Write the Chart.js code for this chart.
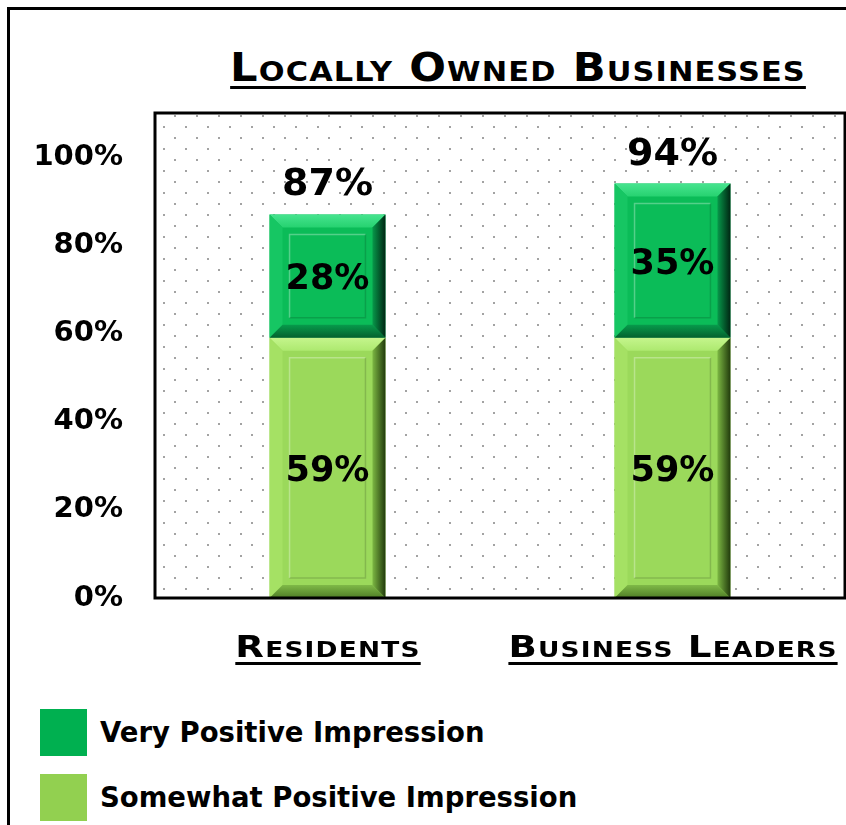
<!DOCTYPE html>
<html lang="en">
  <head>
    <meta charset="UTF-8" />
    <meta name="viewport" content="width=device-width, initial-scale=1.0" />
    <title>Locally Owned Businesses</title>
    <script src="https://cdn.jsdelivr.net/npm/chart.js"></script>
    <style>
      body {
        margin: 0;
        width: 846px;
        height: 825px;
        overflow: hidden;
        position: relative;
        background-color: #ffffff;
        color: #000000;
        font-family: 'DejaVu Sans', sans-serif;
        font-weight: bold;
      }

      .frame {
        position: absolute;
        left: 7px;
        top: 7px;
        width: 1000px;
        height: 1000px;
        border-left: 3px solid #000;
        border-top: 3px solid #000;
      }

      #title {
        position: absolute;
        left: 0;
        top: 49px;
        width: 1036px;
        text-align: center;
        font-size: 38.4px;
        line-height: 38.4px;
        font-variant: small-caps;
        letter-spacing: 1px;
        text-decoration: underline;
        text-decoration-thickness: 3px;
        text-underline-offset: 5px;
        white-space: nowrap;
        transform: scaleX(1.125);
      }

      #chart-box {
        position: absolute;
        left: 0;
        top: 0;
        width: 846px;
        height: 690px;
      }

      .cat-label {
        position: absolute;
        font-size: 31px;
        line-height: 31px;
        font-variant: small-caps;
        letter-spacing: 1px;
        text-decoration: underline;
        text-decoration-thickness: 3px;
        text-underline-offset: 5px;
        white-space: nowrap;
        transform: translateX(-50%) scaleX(1.2);
      }

      .legend {
        position: absolute;
        left: 40px;
        top: 709px;
      }

      .legend-row {
        display: flex;
        align-items: center;
        height: 47px;
        margin-bottom: 18px;
      }

      .swatch {
        width: 47px;
        height: 47px;
        margin-right: 13px;
      }

      .legend-row span {
        font-size: 27.5px;
        line-height: 27.5px;
        white-space: nowrap;
      }
    </style>
  </head>
  <body>
    <div class="frame"></div>
    <div id="title">Locally Owned Businesses</div>
    <div id="chart-box"><canvas id="bar-chart"></canvas></div>
    <div class="legend" id="legend"></div>

    <script>
      // chart values
      const categories = ['Residents', 'Business Leaders'];
      const somewhatPositive = [59, 59];
      const veryPositive = [28, 35];
      const totals = [87, 94];
      const tickValues = [0, 20, 40, 60, 80, 100];

      const seriesNames = ['Somewhat Positive Impression', 'Very Positive Impression'];
      const faceColors = ['#9bd95b', '#0bbc58'];
      const legendColors = ['#92d050', '#00b050'];

      const bevelStyles = [
        {
          topOut: '#c4f58c', topIn: '#ade96f', left: '#a5e164',
          bottomIn: '#7fb947', bottomOut: '#4f7d26',
          rightIn: '#7cb743', rightOut: '#213a0c',
        },
        {
          topOut: '#47e48f', topIn: '#26d270', left: '#16c663',
          bottomIn: '#079a4b', bottomOut: '#03612e',
          rightIn: '#07984a', rightOut: '#002613',
        },
      ];

      const FONT = '"DejaVu Sans", sans-serif';

      // legend (very positive listed first)
      const legendEl = document.getElementById('legend');
      [1, 0].forEach((i) => {
        const row = document.createElement('div');
        row.className = 'legend-row';
        const sw = document.createElement('div');
        sw.className = 'swatch';
        sw.style.backgroundColor = legendColors[i];
        const txt = document.createElement('span');
        txt.textContent = seriesNames[i];
        row.appendChild(sw);
        row.appendChild(txt);
        legendEl.appendChild(row);
      });

      // category labels, placed from the x scale
      const labelEls = categories.map((c) => {
        const el = document.createElement('div');
        el.className = 'cat-label';
        el.textContent = c;
        document.body.appendChild(el);
        return el;
      });

      const dotTile = (() => {
        const c = document.createElement('canvas');
        c.width = 22;
        c.height = 22;
        const g = c.getContext('2d');
        g.fillStyle = '#a3a3a3';
        g.fillRect(19, 2, 2, 2);
        g.fillRect(8, 13, 2, 2);
        return c;
      })();

      function poly(ctx, pts, fill) {
        ctx.beginPath();
        ctx.moveTo(pts[0][0], pts[0][1]);
        for (let i = 1; i < pts.length; i++) ctx.lineTo(pts[i][0], pts[i][1]);
        ctx.closePath();
        ctx.fillStyle = fill;
        ctx.fill();
      }

      const plotBackground = {
        id: 'plotBackground',
        beforeDatasetsDraw(chart) {
          const { ctx, chartArea: a } = chart;
          ctx.save();
          ctx.translate(a.left, a.top);
          ctx.fillStyle = ctx.createPattern(dotTile, 'repeat');
          ctx.fillRect(0, 0, a.right - a.left, a.bottom - a.top);
          ctx.restore();
        },
      };

      const bevels = {
        id: 'bevels',
        afterDatasetsDraw(chart) {
          const ctx = chart.ctx;
          const k = 13;
          const ins = 20;
          ctx.save();
          chart.data.datasets.forEach((ds, di) => {
            const st = bevelStyles[di];
            chart.getDatasetMeta(di).data.forEach((bar) => {
              const { x, y, base, width } = bar.getProps(['x', 'y', 'base', 'width'], true);
              const l = x - width / 2;
              const r = x + width / 2;
              const t = Math.min(y, base);
              const b = Math.max(y, base);

              const gt = ctx.createLinearGradient(0, t, 0, t + k);
              gt.addColorStop(0, st.topOut);
              gt.addColorStop(1, st.topIn);
              poly(ctx, [[l, t], [r, t], [r - k, t + k], [l + k, t + k]], gt);

              poly(ctx, [[l, t], [l + k, t + k], [l + k, b - k], [l, b]], st.left);

              const gb = ctx.createLinearGradient(0, b - k, 0, b);
              gb.addColorStop(0, st.bottomIn);
              gb.addColorStop(1, st.bottomOut);
              poly(ctx, [[l, b], [r, b], [r - k, b - k], [l + k, b - k]], gb);

              const gr = ctx.createLinearGradient(r - k, 0, r, 0);
              gr.addColorStop(0, st.rightIn);
              gr.addColorStop(1, st.rightOut);
              poly(ctx, [[r, t], [r - k, t + k], [r - k, b - k], [r, b]], gr);

              // inner panel
              ctx.lineWidth = 1.5;
              ctx.strokeStyle = 'rgba(255,255,255,0.3)';
              ctx.beginPath();
              ctx.moveTo(l + ins, b - ins);
              ctx.lineTo(l + ins, t + ins);
              ctx.lineTo(r - ins, t + ins);
              ctx.stroke();
              ctx.strokeStyle = 'rgba(0,0,0,0.15)';
              ctx.beginPath();
              ctx.moveTo(r - ins, t + ins);
              ctx.lineTo(r - ins, b - ins);
              ctx.lineTo(l + ins, b - ins);
              ctx.stroke();
            });
          });
          ctx.restore();
        },
      };

      const valueLabels = {
        id: 'valueLabels',
        afterDatasetsDraw(chart) {
          const ctx = chart.ctx;
          ctx.save();
          ctx.fillStyle = '#000';
          ctx.textAlign = 'center';
          ctx.textBaseline = 'alphabetic';
          ctx.font = 'bold 35px ' + FONT;
          chart.data.datasets.forEach((ds, di) => {
            chart.getDatasetMeta(di).data.forEach((bar, i) => {
              const { x, y, base } = bar.getProps(['x', 'y', 'base'], true);
              ctx.fillText(ds.data[i] + '%', x, (y + base) / 2 + 13);
            });
          });
          ctx.font = 'bold 38px ' + FONT;
          const topMeta = chart.getDatasetMeta(chart.data.datasets.length - 1);
          topMeta.data.forEach((bar, i) => {
            const { x, y } = bar.getProps(['x', 'y'], true);
            ctx.fillText(totals[i] + '%', x, y - 19);
          });
          ctx.restore();
        },
      };

      const plotBorder = {
        id: 'plotBorder',
        afterDraw(chart) {
          const { ctx, chartArea: a } = chart;
          ctx.save();
          ctx.strokeStyle = '#000';
          ctx.lineWidth = 3;
          ctx.strokeRect(a.left, a.top, a.right - a.left, a.bottom - a.top);
          ctx.restore();
        },
      };

      const categoryLabels = {
        id: 'categoryLabels',
        afterUpdate(chart) {
          const xs = chart.scales.x;
          labelEls.forEach((el, i) => {
            el.style.left = xs.getPixelForValue(i) + 'px';
            el.style.top = xs.top + 33 + 'px';
          });
        },
      };

      const ctx = document.getElementById('bar-chart').getContext('2d');
      new Chart(ctx, {
        type: 'bar',
        data: {
          labels: categories,
          datasets: [
            {
              label: seriesNames[0],
              data: somewhatPositive,
              backgroundColor: faceColors[0],
              borderWidth: 0,
            },
            {
              label: seriesNames[1],
              data: veryPositive,
              backgroundColor: faceColors[1],
              borderWidth: 0,
            },
          ],
        },
        options: {
          responsive: true,
          maintainAspectRatio: false,
          animation: false,
          layout: { padding: { top: 113, right: 1, left: 0, bottom: 0 } },
          datasets: {
            bar: { barPercentage: 0.336, categoryPercentage: 1 },
          },
          plugins: {
            legend: { display: false },
            tooltip: { enabled: false },
          },
          scales: {
            x: {
              stacked: true,
              grid: { display: false, drawTicks: false },
              border: { display: false },
              ticks: { display: false },
              afterFit: (s) => {
                s.height = 92;
              },
            },
            y: {
              stacked: true,
              min: 0,
              max: 110,
              afterBuildTicks: (s) => {
                s.ticks = tickValues.map((v) => ({ value: v }));
              },
              ticks: {
                color: '#000',
                padding: 32,
                font: { family: FONT, weight: 'bold', size: 29 },
                callback: (v) => v + '%',
              },
              grid: { display: false, drawTicks: false },
              border: { display: false },
              afterFit: (s) => {
                s.width = 155;
              },
            },
          },
        },
        plugins: [plotBackground, bevels, valueLabels, plotBorder, categoryLabels],
      });
    </script>
  </body>
</html>
